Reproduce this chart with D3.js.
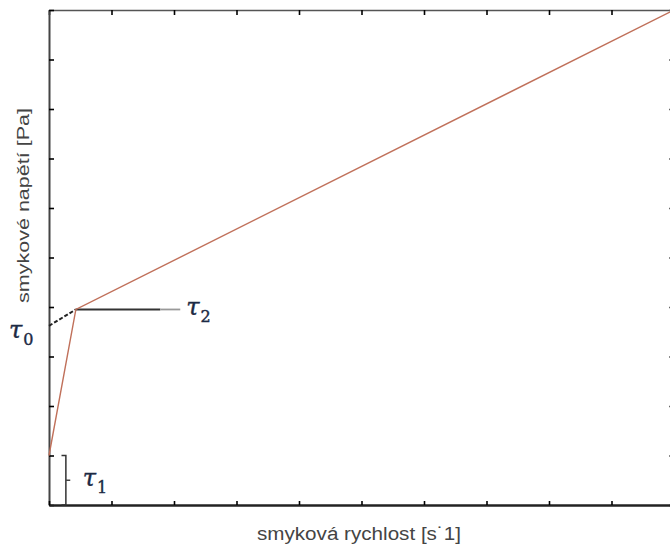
<!DOCTYPE html>
<html>

<head>
	<meta charset="utf-8">
	<script src="https://cdn.jsdelivr.net/npm/d3@7/dist/d3.min.js"></script>
	<style>
		body {
			margin: 0;
			background: white;
		}

		.curve {
			fill: none;
			stroke: #c0705a;
			stroke-width: 1.4;
		}

		.axlabel {
			font-family: "Liberation Sans", Arial, sans-serif;
			fill: #444;
		}

		.tau {
			font-family: "DejaVu Serif", serif;
			fill: #1c2a44;
			stroke: #1c2a44;
			stroke-width: 0.4;
		}
	</style>
</head>

<body>
	<svg></svg>
	<script>

		// bingham-like flow curve
		var shearRate = [0, 0.43, 10];
		var shearStress = [1.0, 3.95, 10.0];
		var tau0 = 3.62;   // extrapolated yield stress
		var tau1 = 1.0;    // initial stress
		var tau2 = 3.95;   // knee stress
		var tau2End = 2.1; // end of the tau2 guide line
		var xTicks = [0, 1, 2, 3, 4, 5, 6, 7, 8, 9, 10];
		var yTicks = [0, 1, 2, 3, 4, 5, 6, 7, 8, 9, 10];
		var xTitle = "smyková rychlost [s˙1]";
		var yTitle = "smykové napětí [Pa]";

		var width = 670;
		var height = 546;

		var svg = d3.select("svg")
			.attr("width", width)
			.attr("height", height);

		var x = d3.scaleLinear().domain([0, 10]).range([49, 674]);
		var y = d3.scaleLinear().domain([0, 10]).range([505, 10]);

		// frame with inward ticks on all sides
		svg.append("g")
			.attr("transform", "translate(0," + y(10) + ")")
			.call(d3.axisTop(x).tickValues(xTicks).tickSize(-5).tickSizeOuter(0).tickFormat(""))
			.call(g => g.select(".domain").attr("stroke", "#555").attr("stroke-width", 1.6));
		svg.append("g")
			.attr("transform", "translate(" + x(10) + ",0)")
			.call(d3.axisRight(y).tickValues(yTicks).tickSize(-5).tickSizeOuter(0).tickFormat(""))
			.call(g => g.selectAll(".tick line").attr("stroke", "#666"));
		svg.append("g")
			.attr("transform", "translate(" + x(0) + ",0)")
			.call(d3.axisLeft(y).tickValues(yTicks).tickSize(-5).tickSizeOuter(0).tickFormat(""))
			.call(g => g.select(".domain").attr("stroke", "#444").attr("stroke-width", 2));
		svg.append("g")
			.attr("transform", "translate(0," + y(0) + ")")
			.call(d3.axisBottom(x).tickValues(xTicks).tickSize(-4).tickSizeOuter(0).tickFormat(""))
			.call(g => g.select(".domain").attr("stroke", "#222").attr("stroke-width", 2.4));
		svg.selectAll(".tick line").attr("stroke-width", 1.6);

		// tau2 guide line
		svg.append("line")
			.attr("x1", x(shearRate[1])).attr("y1", y(tau2))
			.attr("x2", x(tau2End - 0.32)).attr("y2", y(tau2))
			.attr("stroke", "#333").attr("stroke-width", 1.8);
		svg.append("line")
			.attr("x1", x(tau2End - 0.32)).attr("y1", y(tau2))
			.attr("x2", x(tau2End)).attr("y2", y(tau2))
			.attr("stroke", "#999").attr("stroke-width", 1.8);

		// extrapolated part down to tau0
		svg.append("line")
			.attr("x1", x(0)).attr("y1", y(tau0))
			.attr("x2", x(shearRate[1])).attr("y2", y(shearStress[1]))
			.attr("stroke", "#222").attr("stroke-width", 2)
			.attr("stroke-dasharray", "4,2");

		var line = d3.line()
			.x((d, i) => x(shearRate[i]))
			.y(d => y(d));

		svg.append("path")
			.datum(shearStress)
			.attr("class", "curve")
			.attr("d", line);

		// bracket for tau1
		var bx = 0.27;
		svg.append("path")
			.attr("d", d3.line()([
				[x(bx - 0.07), y(tau1)], [x(bx), y(tau1)], [x(bx), y(0)], [x(bx - 0.07), y(0)]
			]))
			.attr("fill", "none").attr("stroke", "#333").attr("stroke-width", 1.5);
		svg.append("line")
			.attr("x1", x(bx)).attr("y1", y(tau1 / 2))
			.attr("x2", x(bx + 0.07)).attr("y2", y(tau1 / 2))
			.attr("stroke", "#444").attr("stroke-width", 1.5);

		// tau labels
		function tauLabel(px, py, sub) {
			var t = svg.append("text")
				.attr("class", "tau")
				.attr("x", px).attr("y", py)
				.attr("font-size", 24)
				.attr("font-style", "italic")
				.text("τ");
			t.append("tspan")
				.attr("dy", 7)
				.attr("dx", 1)
				.attr("font-size", 16)
				.attr("font-style", "normal")
				.text(sub);
		}
		tauLabel(9, y(tau0) + 12, "0");
		tauLabel(x(0.54), y(tau1 / 2) + 6, "1");
		tauLabel(x(tau2End) + 6, y(tau2) + 6, "2");

		// axis titles
		svg.append("text")
			.attr("class", "axlabel")
			.attr("x", 257).attr("y", 540)
			.attr("font-size", 18)
			.attr("textLength", 204)
			.attr("lengthAdjust", "spacingAndGlyphs")
			.text(xTitle);

		svg.append("text")
			.attr("class", "axlabel")
			.attr("transform", "translate(29,303) rotate(-90)")
			.attr("font-size", 17)
			.attr("textLength", 195)
			.attr("lengthAdjust", "spacingAndGlyphs")
			.text(yTitle);

	</script>
</body>

</html>
